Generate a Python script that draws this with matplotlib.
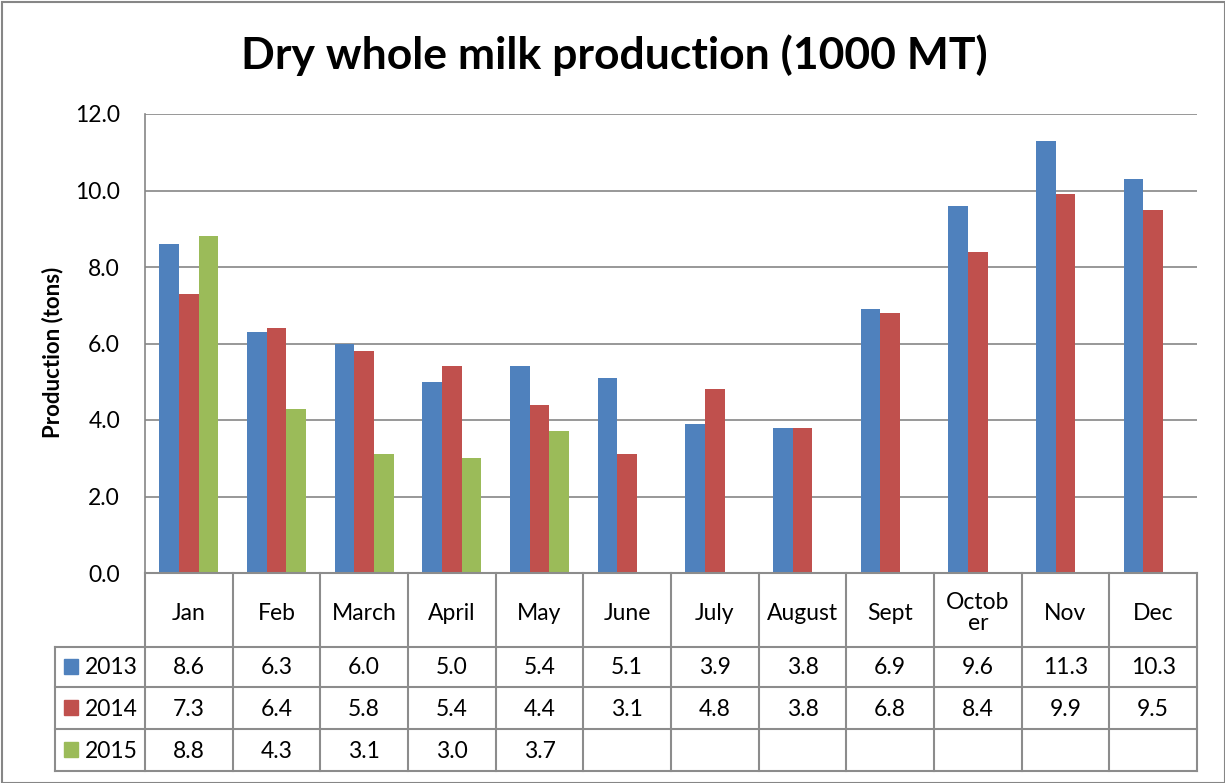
import matplotlib
matplotlib.use("Agg")
import matplotlib.pyplot as plt
from matplotlib.patches import Rectangle
import numpy as np

months = ["Jan", "Feb", "March", "April", "May", "June", "July", "August",
          "Sept", "Octob\ner", "Nov", "Dec"]
years = ["2013", "2014", "2015"]
v2013 = [8.6, 6.3, 6.0, 5.0, 5.4, 5.1, 3.9, 3.8, 6.9, 9.6, 11.3, 10.3]
v2014 = [7.3, 6.4, 5.8, 5.4, 4.4, 3.1, 4.8, 3.8, 6.8, 8.4, 9.9, 9.5]
v2015 = [8.8, 4.3, 3.1, 3.0, 3.7, None, None, None, None, None, None, None]
colors = ["#4F81BD", "#C0504D", "#9BBB59"]

plt.rcParams['font.family'] = ['Lato', 'DejaVu Sans']

W, H = 1225, 783
fig = plt.figure(figsize=(W / 100, H / 100), dpi=100)

# outer chart border
fig.patches.append(Rectangle((2 / W, 0), 1 - 2 / W, 1 - 2 / H, transform=fig.transFigure,
                             fill=False, edgecolor="#868686", linewidth=1.5))

def fbox(x0, y0, x1, y1):
    return [x0 / W, 1 - y1 / H, (x1 - x0) / W, (y1 - y0) / H]

ax = fig.add_axes(fbox(145, 114, 1197, 573))
series = [v2013, v2014, v2015]
x = np.arange(len(months))
bw = 0.224
for k, vals in enumerate(series):
    y = np.array([np.nan if v is None else v for v in vals])
    ax.bar(x + (k - 1) * bw, y, bw, color=colors[k], zorder=3)

ax.set_xlim(-0.5, len(months) - 0.5)
ax.set_ylim(0, 12)
ax.set_yticks(np.arange(0, 12.1, 2))
ax.set_yticklabels(["%.1f" % t for t in np.arange(0, 12.1, 2)], fontsize=16.5)
ax.tick_params(axis="y", length=0, pad=18)
ax.set_xticks([])
ax.grid(axis="y", color="#868686", linewidth=1.2, zorder=0)
for s in ["top", "right", "bottom"]:
    ax.spines[s].set_visible(False)
ax.spines["left"].set_color("#868686")
ax.spines["left"].set_linewidth(1.2)
ax.set_ylabel("Production (tons)", fontsize=16, fontweight="bold")
ax.yaxis.set_label_coords(-82 / 1052, 0.48)

fig.text(614 / W, 1 - 55 / H, "Dry whole milk production (1000 MT)", ha="center", va="center",
         fontsize=32, fontweight="bold")

# data table below the plot
tb = fig.add_axes(fbox(145, 573, 1197, 771))
tb.set_xlim(-0.5, len(months) - 0.5)
tb.set_ylim(198, 0)
tb.axis("off")
lc = "#8c8c8c"
lw = 1.5
unit = 1052 / 12
xl = -0.5 - 90 / unit
rows = [0, 74, 114, 156, 198]
# horizontal lines
tb.plot([-0.5, 11.5], [0, 0], color=lc, lw=lw, clip_on=False)
for r in rows[1:]:
    tb.plot([xl, 11.5], [r, r], color=lc, lw=lw, clip_on=False)
# vertical lines
for i in range(len(months) + 1):
    tb.plot([i - 0.5, i - 0.5], [0, rows[-1]], color=lc, lw=lw, clip_on=False)
tb.plot([xl, xl], [rows[1], rows[-1]], color=lc, lw=lw, clip_on=False)

for i, m in enumerate(months):
    tb.text(i, 40, m, ha="center", va="center", fontsize=16.5, linespacing=0.95)
for k, vals in enumerate(series):
    yc = (rows[k + 1] + rows[k + 2]) / 2
    for i, v in enumerate(vals):
        if v is not None:
            tb.text(i, yc + 1, "%.1f" % v, ha="center", va="center", fontsize=16.5)
    tb.add_patch(Rectangle((xl + 9 / unit, yc - 8), 14 / unit, 15, color=colors[k], clip_on=False))
    tb.text(xl + 30 / unit, yc + 1, years[k], ha="left", va="center", fontsize=16.5)

fig.savefig("out.png", dpi=100)
